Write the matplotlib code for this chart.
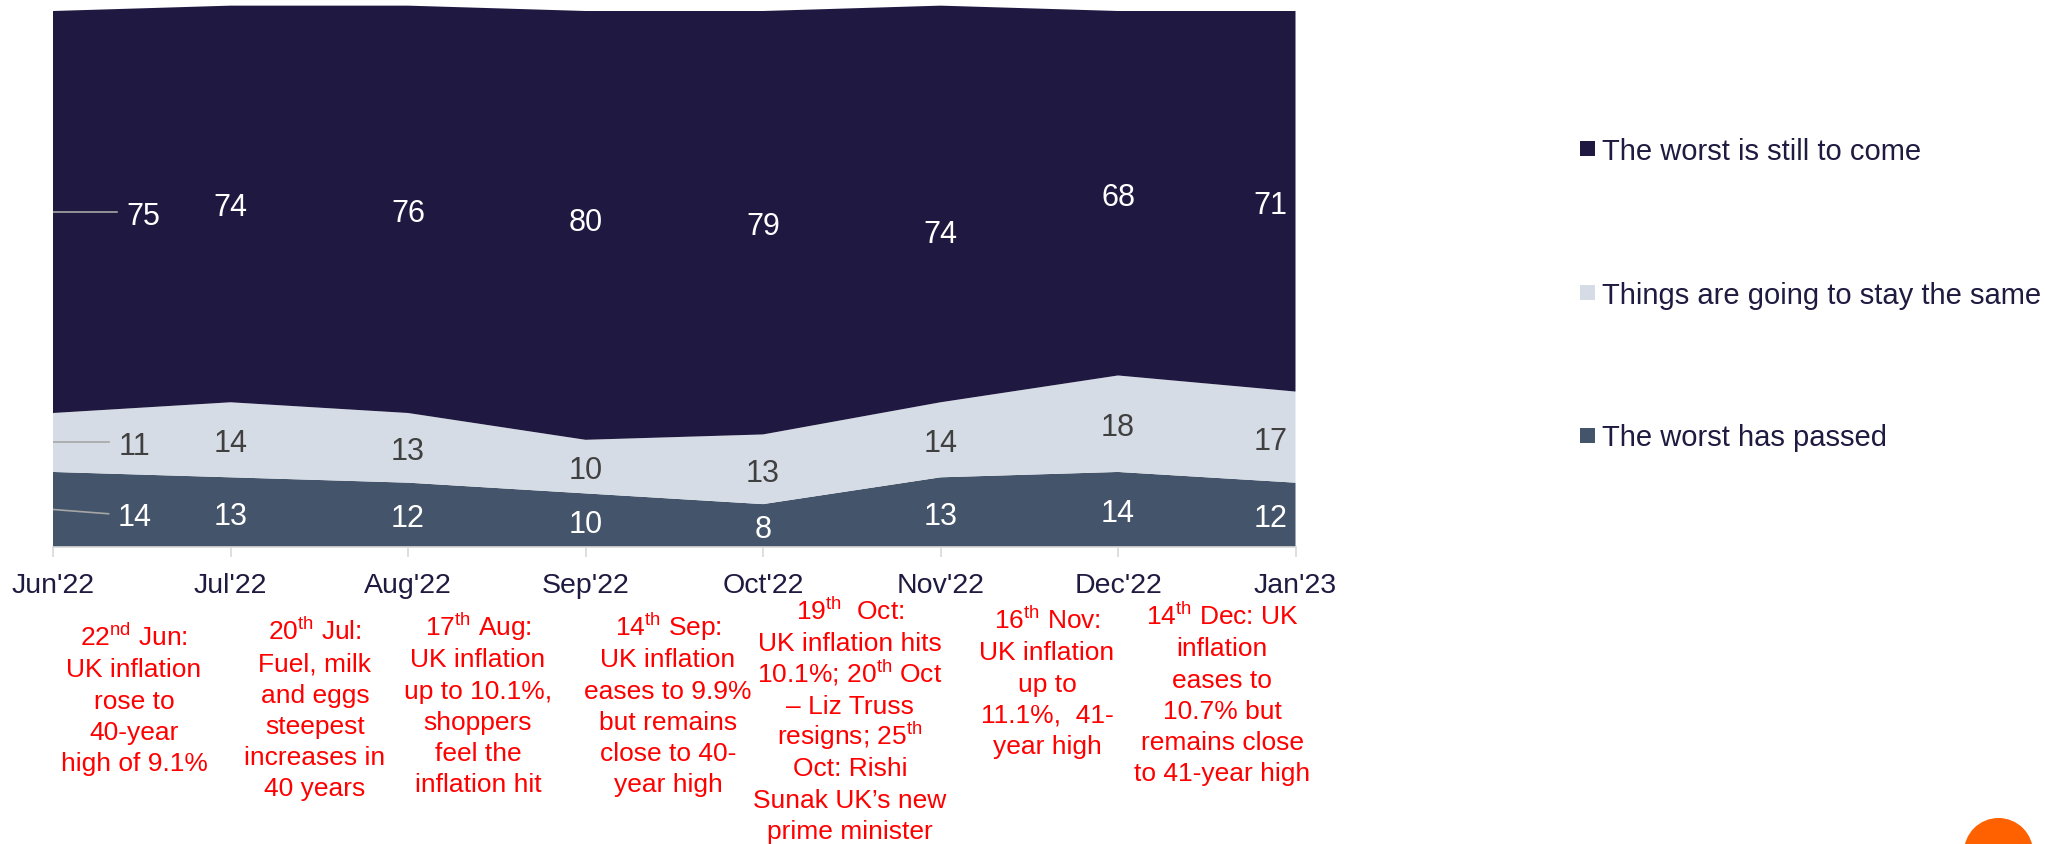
import numpy as np
import matplotlib
matplotlib.use("Agg")
from matplotlib import pyplot as plt
from matplotlib import transforms
from matplotlib.patches import Rectangle, Circle

plt.rcParams['font.family'] = ['Liberation Sans', 'DejaVu Sans']
plt.rcParams['mathtext.fontset'] = 'custom'
plt.rcParams['mathtext.rm'] = 'Liberation Sans'
plt.rcParams['mathtext.it'] = 'Liberation Sans:italic'
plt.rcParams['mathtext.bf'] = 'Liberation Sans:bold'

months = ["Jun'22", "Jul'22", "Aug'22", "Sep'22", "Oct'22", "Nov'22", "Dec'22", "Jan'23"]
worst_passed = [14, 13, 12, 10, 8, 13, 14, 12]
stay_same = [11, 14, 13, 10, 13, 14, 18, 17]
worst_to_come = [75, 74, 76, 80, 79, 74, 68, 71]

series_names = ["The worst has passed", "Things are going to stay the same", "The worst is still to come"]
series_colors = ["#44546A", "#D6DCE5", "#1F1841"]
label_colors = ["white", "#404040", "white"]

events = [
    "22$^{\\mathrm{nd}}$ Jun:\nUK inflation\nrose to\n40-year\nhigh of 9.1%",
    "20$^{\\mathrm{th}}$ Jul:\nFuel, milk\nand eggs\nsteepest\nincreases in\n40 years",
    "17$^{\\mathrm{th}}$ Aug:\nUK inflation\nup to 10.1%,\nshoppers\nfeel the\ninflation hit",
    "14$^{\\mathrm{th}}$ Sep:\nUK inflation\neases to 9.9%\nbut remains\nclose to 40-\nyear high",
    "19$^{\\mathrm{th}}$  Oct:\nUK inflation hits\n10.1%; 20$^{\\mathrm{th}}$ Oct\n\u2013 Liz Truss\nresigns; 25$^{\\mathrm{th}}$\nOct: Rishi\nSunak UK\u2019s new\nprime minister",
    "16$^{\\mathrm{th}}$ Nov:\nUK inflation\nup to\n11.1%,  41-\nyear high",
    "14$^{\\mathrm{th}}$ Dec: UK\ninflation\neases to\n10.7% but\nremains close\nto 41-year high",
]

W, H = 2045, 845
navy = "#1F1A40"

fig = plt.figure(figsize=(W / 100, H / 100), dpi=100)
px_per_unit = 5.36
ax = fig.add_axes([53 / W, (H - 548) / H, 1242.5 / W, 102 * px_per_unit / H])

x = np.arange(len(months))
data = np.array([worst_passed, stay_same, worst_to_come])
ax.stackplot(x, data, colors=series_colors, linewidth=0)
ax.set_xlim(0, len(months) - 1)
ax.set_ylim(0, 102)

for s in ["top", "left", "right"]:
    ax.spines[s].set_visible(False)
ax.spines["bottom"].set_color("#D9D9D9")
ax.spines["bottom"].set_linewidth(1.2)
ax.set_yticks([])
ax.set_xticks(x)
ax.set_xticklabels(months, fontsize=20.5, color=navy)
ax.tick_params(axis="x", length=7.5, width=1.2, color="#D9D9D9", pad=10.5)

# value labels in the middle of each band
bottoms = np.vstack([np.zeros(len(x)), np.cumsum(data, axis=0)[:-1]])
for k in range(3):
    for i in range(len(x)):
        yc = bottoms[k, i] + data[k, i] / 2
        xl = x[i]
        if i == 0:
            # first month labels sit off the edge with a short leader line
            xl = 0.51 if k == 2 else 0.46
            yl = yc - 0.8 if k == 0 else yc
            ax.plot([0, xl - 0.147], [yc, yl], color="#A6A6A6", lw=1.2)
            yc = yl
        elif i == len(x) - 1:
            xl = 6.86
        if k == 2 and i == 5:
            yc -= 5
        if k == 2 and i == 3:
            yc += 1.2
        ax.text(xl, yc, str(data[k, i]), ha="center", va="center_baseline",
                fontsize=22, color=label_colors[k])

# event notes under the axis, one text per line so the spacing stays even
note_tr = transforms.blended_transform_factory(ax.transData, fig.transFigure)
event_x = [0.456, 1.476, 2.394, 3.465, 4.49, 5.60, 6.586]
event_base = [646, 640, 636, 636, 620, 629, 625]
line_gap = 31.3
for ex, eb, txt in zip(event_x, event_base, events):
    for j, line in enumerate(txt.split("\n")):
        ax.text(ex, 1 - (eb + j * line_gap) / H, line, transform=note_tr,
                ha="center", va="baseline", fontsize=19, color="#FF0000")

# legend
leg_y = [149.5, 293, 436]
for yy, name, col in zip(leg_y, series_names[::-1], series_colors[::-1]):
    fig.patches.append(Rectangle((1580 / W, 1 - (yy + 7.5) / H), 15 / W, 15 / H,
                                 transform=fig.transFigure, facecolor=col, edgecolor="none"))
    fig.text(1602 / W, 1 - (yy + 10.5) / H, name, fontsize=21, color=navy, va="baseline")

# corner logo
fig.patches.append(Circle((1998.5 / 100, (H - 853.6) / 100), 0.346,
                          transform=fig.dpi_scale_trans, facecolor="#FF6000", edgecolor="none"))
fig.text(1998.5 / W, 1 - 860 / H, "RHS", ha="center", va="baseline",
         fontsize=16, fontweight="bold", color="white")

fig.savefig("out.png", dpi=100)
